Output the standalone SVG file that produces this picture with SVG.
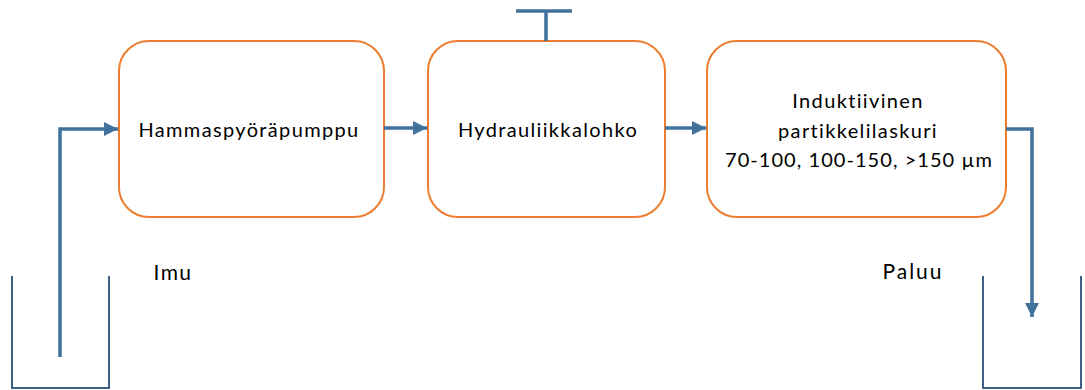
<svg xmlns="http://www.w3.org/2000/svg" width="1085" height="390" viewBox="0 0 1085 390">
  <defs>
    <style>
      .box { fill: #ffffff; stroke: #ED7D31; stroke-width: 2; }
      .flow { fill: none; stroke: #41719C; stroke-width: 3.5; }
      .tank { fill: none; stroke: #3F5F86; stroke-width: 2; }
      .lbl { font-family: Lato, "Open Sans", "Liberation Sans", sans-serif; font-size: 20px; fill: #000000; text-anchor: middle; letter-spacing: 1.35px; }
      .big { font-size: 21px; }
    </style>
    <marker id="head" viewBox="0 0 10 10" refX="10" refY="5" markerWidth="4.6" markerHeight="4" markerUnits="strokeWidth" orient="auto">
      <path d="M0,0 L10,5 L0,10 Z" fill="#41719C"/>
    </marker>
  </defs>
  <rect width="1085" height="390" fill="#ffffff"/>

  <!-- process blocks -->
  <g id="pump">
    <rect class="box" x="119" y="41" width="265" height="176" rx="30" ry="30"/>
    <text class="lbl" x="249" y="137">Hammaspyöräpumppu</text>
  </g>
  <g id="hydraulic-block">
    <rect class="box" x="428" y="41" width="237" height="176" rx="30" ry="30"/>
    <text class="lbl" x="548" y="137">Hydrauliikkalohko</text>
  </g>
  <g id="particle-counter">
    <rect class="box" x="707" y="41" width="299" height="176" rx="30" ry="30"/>
    <text class="lbl" x="858" y="108">Induktiivinen</text>
    <text class="lbl" x="858" y="138">partikkelilaskuri</text>
    <text class="lbl" x="859" y="167" style="letter-spacing:1.05px">70-100, 100-150, &gt;150 µm</text>
  </g>

  <!-- tanks -->
  <g id="suction-tank">
    <path class="tank" d="M12,276 V388 H109 V276"/>
  </g>
  <g id="return-tank">
    <path class="tank" d="M983,276 V388 H1081 V276"/>
  </g>

  <!-- labels -->
  <g id="labels">
    <text class="lbl big" x="173" y="280">Imu</text>
    <text class="lbl big" x="913" y="279" style="letter-spacing:2px">Paluu</text>
  </g>

  <!-- connectors -->
  <g id="connectors">
    <path class="flow" d="M60,357 V129 H118" marker-end="url(#head)"/>
    <path class="flow" d="M384,128 H427" marker-end="url(#head)"/>
    <path class="flow" d="M665,128 H706" marker-end="url(#head)"/>
    <path class="flow" d="M1006,129 H1032 V317" marker-end="url(#head)"/>
    <path class="flow" d="M546,41 V11 M516,11 H572" stroke-linecap="butt"/>
  </g>
</svg>
